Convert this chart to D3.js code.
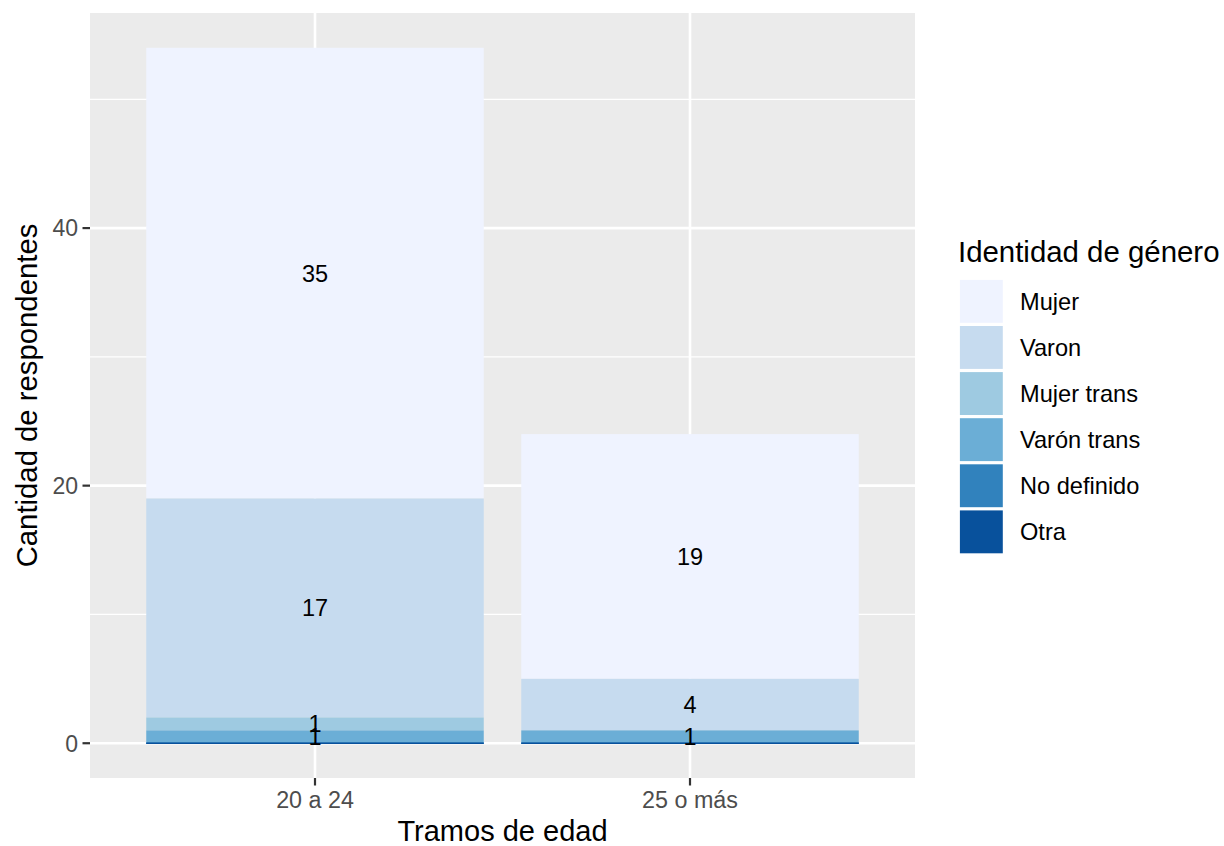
<!DOCTYPE html>
<html>
<head>
<meta charset="utf-8">
<script src="https://cdn.jsdelivr.net/npm/d3@7"></script>
<style>
  html, body { margin: 0; padding: 0; background: #fff; }
  svg { display: block; font-family: "Liberation Sans", Arial, sans-serif; }
</style>
</head>
<body>
<svg id="chart" width="1224" height="846"></svg>
<script>
// ---- data ----
const categories = ["20 a 24", "25 o más"];
const genders = ["Mujer", "Varon", "Mujer trans", "Varón trans", "No definido", "Otra"];
const colors = ["#eff3ff", "#c6dbef", "#9ecae1", "#6baed6", "#3182bd", "#08519c"];
const valMujer      = [35, 19];
const valVaron      = [17, 4];
const valMujerTrans = [1, null];
const valVaronTrans = [1, 1];
const valNoDefinido = [0, 0];
const valOtra       = [0, 0];
const yTicks = [0, 20, 40];
const yMinor = [10, 30, 50];
const xTitle = "Tramos de edad";
const yTitle = "Cantidad de respondentes";
const legendTitle = "Identidad de género";

const seriesVals = [valMujer, valVaron, valMujerTrans, valVaronTrans, valNoDefinido, valOtra];

// ---- layout ----
const svg = d3.select("#chart");
const panel = { left: 90, right: 915, top: 13, bottom: 778 };

// stacking: first level on top, so stack from last (bottom) to first
const segs = [];
categories.forEach((c, ci) => {
  let cum = 0;
  for (let gi = genders.length - 1; gi >= 0; gi--) {
    const v = seriesVals[gi][ci];
    if (v === null || v === undefined) continue;
    segs.push({ cat: c, gi, g: genders[gi], v, y0: cum, y1: cum + v });
    cum += v;
  }
});
const maxTotal = d3.max(segs, d => d.y1);
const pad = maxTotal * 0.05;

const y = d3.scaleLinear().domain([-pad, maxTotal + pad]).range([panel.bottom, panel.top]);
// ggplot discrete: expansion 0.6 units each side, bar width 0.9
const xPos = d3.scalePoint().domain(categories)
  .range([panel.left, panel.right]).padding(0.6);
const unit = xPos.step();
const xc = c => xPos(c);
const barW = 0.9 * unit;

// panel background
svg.append("rect").attr("x", panel.left).attr("y", panel.top)
  .attr("width", panel.right - panel.left).attr("height", panel.bottom - panel.top)
  .attr("fill", "#ebebeb");

// minor grid
svg.append("g").selectAll("line").data(yMinor).join("line")
  .attr("x1", panel.left).attr("x2", panel.right)
  .attr("y1", d => y(d)).attr("y2", d => y(d))
  .attr("stroke", "#fff").attr("stroke-width", 1.3);
// major grid
svg.append("g").selectAll("line").data(yTicks).join("line")
  .attr("x1", panel.left).attr("x2", panel.right)
  .attr("y1", d => y(d)).attr("y2", d => y(d))
  .attr("stroke", "#fff").attr("stroke-width", 2.6);
svg.append("g").selectAll("line").data(categories).join("line")
  .attr("x1", d => xc(d)).attr("x2", d => xc(d))
  .attr("y1", panel.top).attr("y2", panel.bottom)
  .attr("stroke", "#fff").attr("stroke-width", 2.6);

// bars: draw in order top level first (Mujer) to bottom (Otra)
const drawSegs = segs.slice().sort((a, b) => a.gi - b.gi);
const gBars = svg.append("g");
drawSegs.forEach(d => {
  if (d.v > 0) {
    gBars.append("rect")
      .attr("x", xc(d.cat) - barW / 2).attr("width", barW)
      .attr("y", y(d.y1)).attr("height", y(d.y0) - y(d.y1))
      .attr("fill", colors[d.gi]);
  } else {
    gBars.append("line")
      .attr("x1", xc(d.cat) - barW / 2).attr("x2", xc(d.cat) + barW / 2)
      .attr("y1", y(d.y0)).attr("y2", y(d.y0))
      .attr("stroke", colors[d.gi]).attr("stroke-width", 1.3);
  }
});

// bar labels
svg.append("g").selectAll("text").data(segs.filter(d => d.v > 0)).join("text")
  .attr("x", d => xc(d.cat))
  .attr("y", d => y((d.y0 + d.y1) / 2))
  .attr("dy", "0.36em")
  .attr("text-anchor", "middle")
  .attr("font-size", 23.5)
  .attr("fill", "#000")
  .text(d => d.v);

// y axis ticks + labels
const gy = svg.append("g");
gy.selectAll("line").data(yTicks).join("line")
  .attr("x1", panel.left - 7.5).attr("x2", panel.left)
  .attr("y1", d => y(d)).attr("y2", d => y(d))
  .attr("stroke", "#333").attr("stroke-width", 2.2);
gy.selectAll("text").data(yTicks).join("text")
  .attr("x", panel.left - 12).attr("y", d => y(d)).attr("dy", "0.36em")
  .attr("text-anchor", "end").attr("font-size", 23)
  .attr("fill", "#4d4d4d").text(d => d);

// x axis ticks + labels
const gx = svg.append("g");
gx.selectAll("line").data(categories).join("line")
  .attr("x1", d => xc(d)).attr("x2", d => xc(d))
  .attr("y1", panel.bottom).attr("y2", panel.bottom + 7.5)
  .attr("stroke", "#333").attr("stroke-width", 2.2);
gx.selectAll("text").data(categories).join("text")
  .attr("x", d => xc(d)).attr("y", 808)
  .attr("text-anchor", "middle").attr("font-size", 23.3)
  .attr("fill", "#4d4d4d").text(d => d);

// axis titles
svg.append("text").attr("x", (panel.left + panel.right) / 2).attr("y", 841)
  .attr("text-anchor", "middle").attr("font-size", 29).attr("fill", "#000")
  .text(xTitle);
svg.append("text")
  .attr("transform", `translate(37, ${(panel.top + panel.bottom) / 2}) rotate(-90)`)
  .attr("text-anchor", "middle").attr("font-size", 29.3).attr("fill", "#000")
  .text(yTitle);

// legend
const lg = svg.append("g");
lg.append("text").attr("x", 958).attr("y", 262)
  .attr("font-size", 29.4).attr("fill", "#000").text(legendTitle);
const keyX = 958.3, keyY0 = 278.3, keyS = 46.1, inset = 1.6;
genders.forEach((g, i) => {
  const ky = keyY0 + i * keyS;
  lg.append("rect").attr("x", keyX).attr("y", ky).attr("width", keyS).attr("height", keyS)
    .attr("fill", "#fff");
  lg.append("rect").attr("x", keyX + inset).attr("y", ky + inset)
    .attr("width", keyS - 2 * inset).attr("height", keyS - 2 * inset)
    .attr("fill", colors[i]);
  lg.append("text").attr("x", 1020).attr("y", ky + keyS / 2).attr("dy", "0.36em")
    .attr("font-size", 23.6).attr("fill", "#000").text(g);
});
</script>
</body>
</html>
